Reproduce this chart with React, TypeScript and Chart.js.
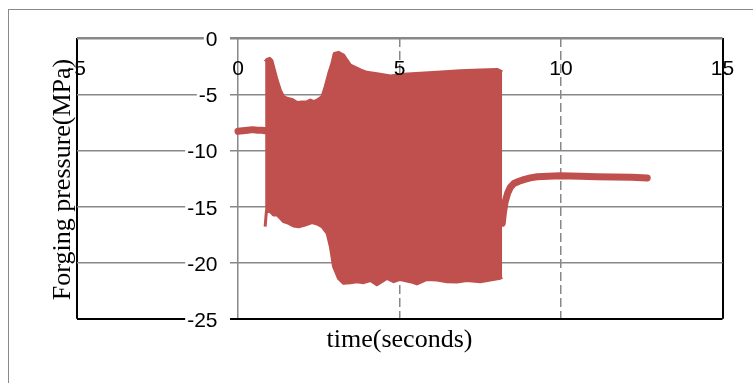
import React, { useEffect, useRef } from "react";
import { Chart, registerables } from "chart.js";

Chart.register(...registerables);

const SERIES_RED = "#C0504D";
const GRID_GRAY = "#888888";

const xTickValues = [-5, 0, 5, 10, 15];
const yTickValues = [0, -5, -10, -15, -20, -25];
const xTitle = "time(seconds)";
const yTitle = "Forging pressure(MPa)";

// Steady pressure before forging starts
const preTime = [0, 0.15, 0.3, 0.45, 0.6, 0.75, 0.84];
const prePressure = [-8.3, -8.25, -8.2, -8.15, -8.2, -8.2, -8.25];

// Upper envelope of the oscillating forging pressure
const upperTime = [
  0.84, 0.9, 0.98, 1.05, 1.1, 1.21, 1.31, 1.41, 1.52, 1.67, 1.83, 1.98, 2.14,
  2.24, 2.34, 2.45, 2.6, 2.7, 2.81, 2.91, 2.98, 3.11, 3.27, 3.37, 3.48, 3.63,
  3.79, 3.99, 4.2, 4.4, 4.72, 5.13, 5.64, 6.16, 6.88, 7.5, 8.02, 8.18,
];
const upperPressure = [
  -2.09, -1.88, -1.79, -2.0, -2.54, -3.73, -4.62, -5.21, -5.36, -5.45, -5.74,
  -5.69, -5.66, -5.51, -5.66, -5.51, -5.21, -4.32, -3.13, -2.24, -1.35, -1.26,
  -1.5, -1.94, -2.39, -2.6, -2.83, -3.04, -3.13, -3.22, -3.36, -3.22, -3.13,
  -3.04, -2.9, -2.84, -2.78, -3.0,
];

// Lower envelope of the oscillating forging pressure
const lowerTime = [
  0.84, 0.86, 0.88, 1.0, 1.1, 1.21, 1.31, 1.41, 1.57, 1.72, 1.88, 2.08, 2.29,
  2.45, 2.6, 2.76, 2.86, 2.96, 3.11, 3.27, 3.48, 3.68, 3.89, 4.1, 4.3, 4.51,
  4.61, 4.82, 5.02, 5.33, 5.54, 5.85, 6.16, 6.47, 6.78, 7.09, 7.5, 7.81, 8.12,
  8.18,
];
const lowerPressure = [
  -16.8, -16.8, -15.4, -15.46, -15.76, -15.76, -16.05, -16.35, -16.5, -16.74,
  -16.8, -16.65, -16.44, -16.56, -16.8, -17.39, -18.58, -20.37, -21.4, -21.85,
  -21.79, -21.7, -21.79, -21.6, -21.97, -21.6, -21.4, -21.7, -21.5, -21.7,
  -21.9, -21.5, -21.55, -21.7, -21.73, -21.6, -21.7, -21.55, -21.4, -21.3,
];

// Pressure settling after forging ends
const postTime = [
  8.18, 8.22, 8.27, 8.35, 8.43, 8.54, 8.7, 8.85, 9.05, 9.26, 9.6, 9.98, 10.6,
  11.1, 11.63, 12.2, 12.67,
];
const postPressure = [
  -16.5, -15.5, -14.6, -13.8, -13.3, -12.95, -12.75, -12.6, -12.45, -12.35,
  -12.3, -12.25, -12.3, -12.35, -12.37, -12.4, -12.45,
];

function points(t: number[], p: number[]) {
  return t.map((x, i) => ({ x, y: p[i] }));
}

// Tick labels and axis titles, placed from the scales' own pixel mapping
const axisText = {
  id: "axisText",
  afterDraw(chart: any) {
    const { ctx, chartArea, scales } = chart;
    const xs = scales.x;
    const ys = scales.y;
    const x0 = xs.getPixelForValue(0);
    ctx.save();
    ctx.font = '21px "Liberation Sans", Arial, sans-serif';
    ctx.textBaseline = "alphabetic";

    ctx.textAlign = "right";
    const labelRight = x0 - 20.5;
    for (const v of yTickValues) {
      const gy = ys.getPixelForValue(v);
      const label = String(v);
      const w = ctx.measureText(label).width;
      ctx.fillStyle = "#ffffff";
      ctx.fillRect(labelRight - w - 2, gy - 9, x0 - 8 - (labelRight - w - 2), 18);
      ctx.fillStyle = "#000000";
      ctx.fillText(label, labelRight, gy + 8);
    }

    ctx.textAlign = "center";
    ctx.fillStyle = "#000000";
    for (const v of xTickValues) {
      ctx.fillText(String(v), xs.getPixelForValue(v), chartArea.top + 37);
    }

    ctx.font = '26px "Liberation Serif", "Times New Roman", serif';
    ctx.fillText(xTitle, (chartArea.left + chartArea.right) / 2, 337);
    ctx.save();
    ctx.translate(61, (chartArea.top + chartArea.bottom) / 2 + 1);
    ctx.rotate(-Math.PI / 2);
    ctx.fillText(yTitle, 0, 0);
    ctx.restore();
    ctx.restore();
  },
};

export default function App() {
  const canvasRef = useRef<HTMLCanvasElement>(null);

  useEffect(() => {
    const thick = {
      borderColor: SERIES_RED,
      borderWidth: 7,
      borderCapStyle: "round" as const,
      borderJoinStyle: "round" as const,
      fill: false,
      pointRadius: 0,
    };
    const edge = {
      borderColor: SERIES_RED,
      borderWidth: 3,
      borderJoinStyle: "round" as const,
      pointRadius: 0,
    };
    const chart = new Chart(canvasRef.current!, {
      type: "line",
      data: {
        datasets: [
          { ...thick, data: points(preTime, prePressure) },
          { ...edge, data: points(upperTime, upperPressure), fill: false },
          {
            ...edge,
            data: points(lowerTime, lowerPressure),
            fill: "-1",
            backgroundColor: SERIES_RED,
          },
          { ...thick, data: points(postTime, postPressure) },
        ],
      },
      options: {
        responsive: false,
        animation: false,
        layout: { padding: { left: 67.5, right: 30.5, top: 28.2, bottom: 64.3 } },
        plugins: { legend: { display: false }, tooltip: { enabled: false } },
        scales: {
          x: {
            type: "linear",
            position: "top",
            min: -5,
            max: 15,
            ticks: { display: false, stepSize: 5 },
            border: {
              display: false,
              dash: (c: any) => (c.tick && (c.tick.value === 5 || c.tick.value === 10) ? [9, 4] : []),
            },
            grid: {
              drawTicks: false,
              color: (c: any) => (c.tick && (c.tick.value === -5 || c.tick.value === 15) ? "#000000" : GRID_GRAY),
              lineWidth: (c: any) => (c.tick && (c.tick.value === -5 || c.tick.value === 15) ? 2 : 1.5),
            },
            afterFit: (s: any) => {
              s.height = 0;
            },
          },
          y: {
            type: "linear",
            position: "left",
            min: -25,
            max: 0,
            ticks: { display: false, stepSize: 5 },
            border: { display: false },
            grid: {
              drawTicks: false,
              color: (c: any) => (c.tick && c.tick.value === -25 ? "#000000" : GRID_GRAY),
              lineWidth: (c: any) =>
                c.tick && c.tick.value === 0 ? 2.5 : c.tick && c.tick.value === -25 ? 2 : 1.5,
            },
            afterFit: (s: any) => {
              s.width = 0;
            },
          },
        },
      },
      plugins: [axisText],
    });
    return () => chart.destroy();
  }, []);

  return (
    <div
      style={{
        position: "absolute",
        left: 8,
        top: 9,
        width: 745,
        height: 374,
        borderTop: "1px solid #8a8a8a",
        borderLeft: "1px solid #8a8a8a",
        boxSizing: "border-box",
        background: "#ffffff",
      }}
    >
      <canvas ref={canvasRef} width={744} height={373} style={{ display: "block" }} />
    </div>
  );
}
